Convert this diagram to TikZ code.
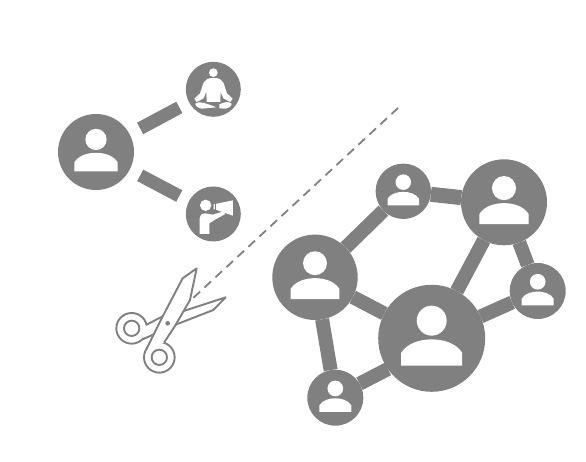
\documentclass[tikz,border=0pt]{standalone}
\usepackage{tikz}
\definecolor{netgray}{HTML}{808080}
\tikzset{
  hub/.style={circle,fill=netgray,inner sep=0pt,outer sep=0pt,minimum size=#1},
  link/.style={netgray,line width=14pt},
  bar/.style={netgray,line width=13pt,shorten <=12pt,shorten >=11pt},
  cutline/.style={netgray,line width=1.8pt,dash pattern=on 9pt off 6pt},
  blade/.style={draw=netgray,fill=white,line width=1.9pt,line join=round},
  pictogram/.style={fill=white,draw=none},
  personicon/.pic={
    \fill[white] (0,-0.33) circle (0.28);
    \fill[white] (-0.57,0.51) -- (-0.57,0.27) .. controls (-0.45,0.08) and (-0.2,0.02) .. (0,0.02)
      .. controls (0.2,0.02) and (0.45,0.08) .. (0.57,0.27) -- (0.57,0.51) -- cycle;
  }
}
\begin{document}
\begin{tikzpicture}[x=1pt,y=-1pt]
  \useasboundingbox (0,0) rectangle (586,462);

  % left group
  \node[hub=76pt] (me) at (96,152) {};
  \node[hub=55pt] (lotus) at (213.3,89.3) {};
  \node[hub=55pt] (speaker) at (213.3,214) {};
  \draw[bar] (me) -- (lotus);
  \draw[bar] (me) -- (speaker);
  \pic[scale=38] at (me) {personicon};

  % lotus figure
  \begin{scope}[shift={(50,50)},scale=0.3333]
    \fill[pictogram] (490,68) circle (13);
    \fill[pictogram] (472,87) .. controls (480,83) and (502,83) .. (510,87) .. controls (518,92) and (522,100) .. (525,112) -- (531,130) -- (548,146)
      -- (541,156) -- (520,145) -- (512,125) -- (511,156) -- (470,156) -- (469,125) -- (461,145) -- (440,156)
      -- (433,146) -- (450,130) -- (456,112) .. controls (459,100) and (463,92) .. (472,87) -- cycle;
    \fill[pictogram] (436,161) .. controls (445,153) and (465,158) .. (499,172) -- (455,176) .. controls (445,174) and (436,169) .. (436,161) -- cycle;
    \fill[pictogram] (545,161) .. controls (535,153) and (525,156) .. (508,163) -- (508,175) -- (526,176) .. controls (536,174) and (545,169) .. (545,161) -- cycle;
  \end{scope}

  % speaker figure
  \begin{scope}[shift={(50,50)},scale=0.3333]
    \fill[pictogram] (467,466) circle (17);
    \fill[pictogram] (449,552) -- (449,505) .. controls (449,496) and (455,490) .. (464,490) -- (488,494) -- (522,484) -- (526,492)
      -- (497,508) -- (478,520) -- (478,552) -- cycle;
    \fill[pictogram] (491,463) -- (549,451) -- (549,497) -- (491,477) -- cycle;
    \draw[netgray,line width=0.7pt] (497,460) -- (497,480);
  \end{scope}

  % network
  \node[hub=107pt] (bighub) at (431.7,338.3) {};
  \node[hub=85.4pt] (lefthub) at (315,277.3) {};
  \node[hub=86pt] (tophub) at (504,202.3) {};
  \node[hub=55.4pt] (midhub) at (403.3,191.3) {};
  \node[hub=56pt] (righthub) at (537.7,291) {};
  \node[hub=56pt] (lowhub) at (335.3,397.7) {};
  \draw[link] (lefthub) -- (midhub);
  \draw[link,line width=15pt] (midhub) -- (tophub);
  \draw[link] (tophub) -- (bighub);
  \draw[link] (tophub) -- (righthub);
  \draw[link] (bighub) -- (righthub);
  \draw[link] (lefthub) -- (bighub);
  \draw[link] (lefthub) -- (lowhub);
  \draw[link] (lowhub.30) -- (bighub.215);
  \foreach \hubname/\hubscale in {bighub/53.5,lefthub/42.7,tophub/43,midhub/27.7,righthub/28,lowhub/28}
    \pic[scale=\hubscale] at (\hubname) {personicon};

  % cut
  \coordinate (cutstart) at (398,108);
  \coordinate (cutend) at (191,300);
  \draw[cutline] (cutstart) -- (cutend);

  % scissors
  \begin{scope}[shift={(100,250)},scale=0.3333]
    \coordinate (leftring) at (95,235);
    \coordinate (lowring) at (178,322);
    \filldraw[blade] (leftring) circle (46);
    \filldraw[blade] (lowring) circle (46);
    \filldraw[blade] (128,268) -- (222,226) -- (340,180) -- (377,142) -- (245,185) -- (190,198) -- (138,225);
    \filldraw[blade] (leftring) circle (23);
    \filldraw[blade] (138,300) -- (185,205) -- (248,85) -- (290,55) -- (270,150) -- (225,228) -- (192,278);
    \filldraw[blade] (lowring) circle (23);
    \fill[netgray] (203,220) circle (7);
  \end{scope}
\end{tikzpicture}
\end{document}
